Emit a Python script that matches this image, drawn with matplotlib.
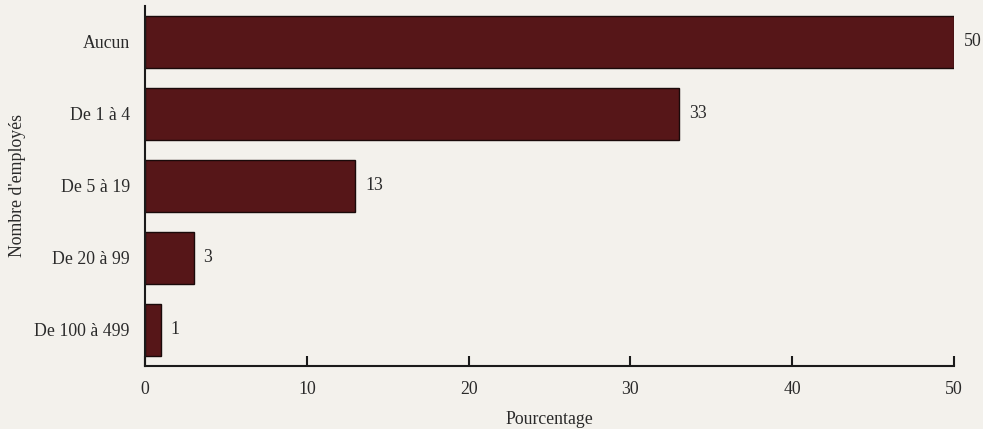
import matplotlib
matplotlib.use("Agg")
import matplotlib.pyplot as plt

categories = ["Aucun", "De 1 à 4", "De 5 à 19", "De 20 à 99", "De 100 à 499"]
values = [50, 33, 13, 3, 1]
xticks = [0, 10, 20, 30, 40, 50]

plt.rcParams['font.family'] = ['Liberation Serif', 'DejaVu Serif']

bg = '#f3f1ec'
fs = 12.8
fig = plt.figure(figsize=(9.83, 4.29), dpi=100, facecolor=bg)
ax = fig.add_axes([0.1475, 0.147, 0.823, 0.839])
ax.set_facecolor(bg)

ypos = list(range(len(categories)))[::-1]
ax.barh(ypos, values, height=0.72, color='#561618', edgecolor='#1a0a0a', linewidth=1.0)
for y, v in zip(ypos, values):
    ax.annotate(f"{v}", xy=(v, y), xytext=(7, 0), textcoords='offset points',
                va='center', ha='left', fontsize=fs, color='#2a2a2a')

ax.set_xlim(0, 50)
ax.set_ylim(-0.5, 4.5)
ax.set_yticks(ypos)
ax.set_yticklabels(categories, fontsize=fs, color='#2a2a2a')
ax.set_xticks(xticks)
ax.set_xticklabels([str(t) for t in xticks], fontsize=fs, color='#2a2a2a')
ax.tick_params(axis='y', length=0, pad=11)
ax.tick_params(axis='x', direction='in', length=7, width=1.5, pad=11, color='#1a1a1a')
for s in ['top', 'right']:
    ax.spines[s].set_visible(False)
for s in ['left', 'bottom']:
    ax.spines[s].set_linewidth(1.5)
    ax.spines[s].set_color('#1a1a1a')
ax.set_xlabel("Pourcentage", fontsize=fs, color='#2a2a2a', labelpad=9)
ax.set_ylabel("Nombre d'employés", fontsize=fs, color='#2a2a2a', labelpad=6)

fig.savefig("out.png", dpi=100, facecolor=bg)
